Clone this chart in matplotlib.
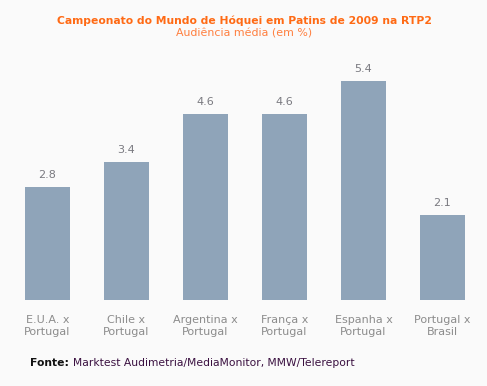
import matplotlib
matplotlib.use("Agg")
import matplotlib.pyplot as plt

categories = ["E.U.A. x\nPortugal", "Chile x\nPortugal", "Argentina x\nPortugal",
              "França x\nPortugal", "Espanha x\nPortugal", "Portugal x\nBrasil"]
values = [2.8, 3.4, 4.6, 4.6, 5.4, 2.1]

W, H = 487, 386
fig = plt.figure(figsize=(W / 100, H / 100), dpi=100, facecolor="#fafafa")
plt.rcParams['font.family'] = ['DejaVu Sans']

ax_left, ax_right = 8, 482
ax_bottom_px, ax_top_px = 300, 57
ax = fig.add_axes([ax_left / W, 1 - ax_bottom_px / H,
                   (ax_right - ax_left) / W, (ax_bottom_px - ax_top_px) / H])
ax.set_facecolor("#fafafa")
x = list(range(len(values)))
ax.bar(x, values, width=0.57, color="#8fa4b9")
ax.set_xlim(-0.5, len(values) - 0.5)
ax.set_ylim(0, 6)
for xi, v in zip(x, values):
    ax.annotate(f"{v:.1f}", (xi, v), xytext=(0, 5), textcoords="offset points",
                ha="center", va="bottom", fontsize=8, color="#7a7a80")
ax.set_xticks(x)
ax.set_xticklabels(categories, fontsize=8, color="#8c8c8c", linespacing=1.25)
ax.tick_params(axis="x", length=0, pad=11)
ax.set_yticks([])
for s in ax.spines.values():
    s.set_visible(False)

fig.text(244 / W, 1 - 21 / H, "Campeonato do Mundo de Hóquei em Patins de 2009 na RTP2",
         ha="center", va="center", fontsize=7.75, fontweight="bold", color="#ff6a14")
fig.text(244 / W, 1 - 34 / H, "Audiência média (em %)",
         ha="center", va="center", fontsize=7.9, color="#ff7f3f")

t1 = fig.text(30 / W, 1 - 363 / H, "Fonte:", ha="left", va="center",
              fontsize=7.75, fontweight="bold", color="#111111")
fig.canvas.draw()
bb = t1.get_window_extent()
fig.text((bb.x1 + 4) / W, 1 - 363 / H, "Marktest Audimetria/MediaMonitor, MMW/Telereport",
         ha="left", va="center", fontsize=7.75, color="#3a1040")

fig.savefig("out.png", dpi=100, facecolor=fig.get_facecolor())
